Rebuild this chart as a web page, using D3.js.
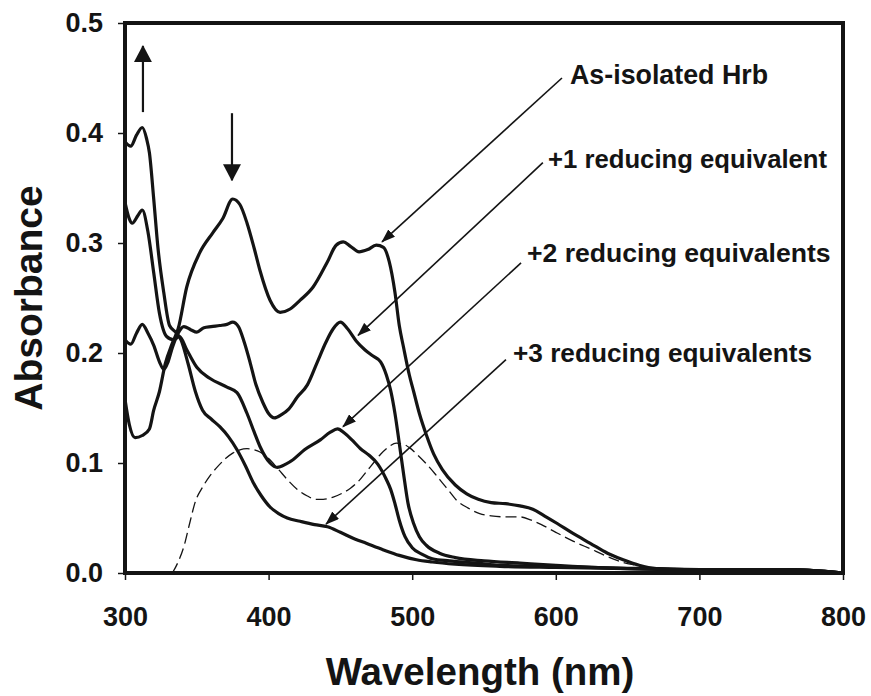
<!DOCTYPE html>
<html>
<head>
<meta charset="utf-8">
<script src="https://cdn.jsdelivr.net/npm/d3@7"></script>
<style>
  html, body { margin: 0; padding: 0; background: #fff; }
  svg { display: block; }
  text { font-family: "Liberation Sans", Arial, sans-serif; font-weight: bold; fill: #141414; }
</style>
</head>
<body>
<svg id="chart" width="871" height="696"></svg>
<script>
// ---------------- data ----------------
const xTicks = [300, 400, 500, 600, 700, 800];
const yTicks = [0.0, 0.1, 0.2, 0.3, 0.4, 0.5];

const wlAsIsolated = [300,303,307,312,317,320,324,328,333,337,343,352,361,368,375,380,385,390,394,401,408,415,422,431,441,447,452,457,463,469,475,480,484,488,491,494,498,501,505,510,515,521,530,538,546,555,565,575,584,592,601,612,624,636,647,658,670,690,720,760,780,800];
const absAsIsolated = [0.158,0.135,0.123,0.125,0.131,0.148,0.165,0.19,0.209,0.222,0.26,0.291,0.309,0.322,0.340,0.335,0.318,0.295,0.275,0.248,0.237,0.240,0.248,0.260,0.283,0.298,0.301,0.297,0.292,0.294,0.298,0.296,0.283,0.255,0.225,0.205,0.180,0.165,0.145,0.125,0.108,0.094,0.080,0.072,0.067,0.064,0.063,0.061,0.058,0.052,0.045,0.036,0.027,0.018,0.012,0.007,0.004,0.003,0.003,0.003,0.002,0.000];

const wlRed1 = [300,304,308,312,316,320,324,327,330,333,337,341,346,350,355,360,366,371,375,379,383,387,391,396,400,404,409,414,420,427,434,440,445,450,455,461,467,473,478,482,485,488,491,494,497,501,505,510,519,530,550,575,600,630,670,720,760,800];
const absRed1 = [0.212,0.208,0.218,0.226,0.218,0.207,0.192,0.185,0.192,0.205,0.218,0.224,0.221,0.219,0.223,0.224,0.225,0.226,0.228,0.224,0.210,0.192,0.172,0.155,0.145,0.141,0.144,0.149,0.160,0.171,0.192,0.210,0.222,0.228,0.222,0.211,0.203,0.197,0.192,0.180,0.166,0.145,0.118,0.090,0.064,0.045,0.033,0.025,0.018,0.014,0.011,0.009,0.007,0.005,0.004,0.003,0.003,0.000];

const wlRed2 = [300,303,305,309,312,316,320,324,329,334,338,343,350,359,371,378,385,390,394,401,406,412,417,425,436,443,448,453,458,464,470,476,482,485,488,491,495,500,507,514,526,545,561,600,650,700,760,800];
const absRed2 = [0.337,0.322,0.318,0.325,0.330,0.310,0.273,0.236,0.215,0.212,0.215,0.203,0.187,0.177,0.169,0.164,0.145,0.128,0.115,0.100,0.096,0.099,0.103,0.112,0.121,0.128,0.131,0.127,0.121,0.113,0.107,0.099,0.085,0.076,0.063,0.048,0.033,0.023,0.017,0.013,0.011,0.009,0.007,0.006,0.004,0.003,0.003,0.000];

const wlRed3 = [300,304,308,312,315,317,320,323,327,331,336,339,344,349,354,360,366,372,378,384,389,395,401,407,413,422,432,441,450,460,468,480,491,503,514,530,561,600,650,700,760,800];
const absRed3 = [0.392,0.388,0.398,0.405,0.395,0.382,0.340,0.295,0.255,0.225,0.218,0.212,0.190,0.165,0.148,0.140,0.133,0.124,0.112,0.097,0.083,0.070,0.060,0.054,0.050,0.047,0.044,0.042,0.037,0.031,0.027,0.021,0.016,0.012,0.010,0.008,0.006,0.005,0.004,0.003,0.003,0.000];

const wlDashed = [333,337,341,345,349,354,359,364,370,375,380,385,390,394,400,407,413,420,427,433,438,445,452,457,463,468,473,478,484,489,494,498,504,510,516,521,526,531,539,547,555,565,575,583,590,600,612,624,636,646,656,668,680,720,760,800];
const absDashed = [0.000,0.010,0.024,0.045,0.065,0.078,0.088,0.096,0.104,0.109,0.112,0.113,0.112,0.110,0.104,0.094,0.085,0.076,0.070,0.067,0.067,0.069,0.073,0.077,0.084,0.092,0.100,0.108,0.115,0.118,0.117,0.114,0.107,0.099,0.090,0.082,0.074,0.066,0.059,0.054,0.052,0.051,0.051,0.048,0.044,0.037,0.029,0.022,0.015,0.010,0.007,0.004,0.003,0.003,0.003,0.000];

// annotation labels (text, anchor wavelength, anchor absorbance) and leader arrows
const labelTexts = ["As-isolated Hrb", "+1 reducing equivalent", "+2 reducing equivalents", "+3 reducing equivalents"];
const labelWl   = [609.9, 594.6, 579.9, 570.2];
const labelAbs  = [0.445, 0.3685, 0.283, 0.192];
const leaderFromWl  = [604.3, 591.0, 575.8, 565.3];
const leaderFromAbs = [0.450, 0.373, 0.282, 0.194];
const leaderToWl    = [479.0, 462.3, 451.8, 440.0];
const leaderToAbs   = [0.301, 0.216, 0.133, 0.0445];

// big trend arrows: [wavelength, fromAbs, toAbs]
const trendWl      = [312.5, 374.5];
const trendFromAbs = [0.419, 0.418];
const trendToAbs   = [0.479, 0.357];

// ---------------- chart ----------------
const svg = d3.select("#chart");
const W = 871, H = 696;
const margin = {left: 125, top: 23, right: W - 843, bottom: H - 573};
const ink = "#141414";

svg.append("rect").attr("width", W).attr("height", H).attr("fill", "#fff");

const x = d3.scaleLinear().domain([300, 800]).range([margin.left, W - margin.right]);
const y = d3.scaleLinear().domain([0, 0.5]).range([H - margin.bottom, margin.top]);

const defs = svg.append("defs");
defs.append("marker")
  .attr("id", "headSmall").attr("viewBox", "0 0 14 10")
  .attr("refX", 13).attr("refY", 5)
  .attr("markerWidth", 14).attr("markerHeight", 10)
  .attr("markerUnits", "userSpaceOnUse").attr("orient", "auto")
  .append("path").attr("d", "M0,0 L14,5 L0,10 Z").attr("fill", ink);
defs.append("marker")
  .attr("id", "headBig").attr("viewBox", "0 0 17 18")
  .attr("refX", 16).attr("refY", 9)
  .attr("markerWidth", 17).attr("markerHeight", 18)
  .attr("markerUnits", "userSpaceOnUse").attr("orient", "auto")
  .append("path").attr("d", "M0,0 L17,9 L0,18 Z").attr("fill", ink);

// axes
const yAxis = d3.axisLeft(y).tickValues(yTicks).tickFormat(d3.format(".1f")).tickSize(7).tickPadding(15);
const xAxis = d3.axisBottom(x).tickValues(xTicks).tickFormat(d3.format("d")).tickSize(7).tickPadding(27);

const gy = svg.append("g").attr("transform", `translate(${margin.left},0)`).call(yAxis);
const gx = svg.append("g").attr("transform", `translate(0,${H - margin.bottom})`).call(xAxis);
[gx, gy].forEach(g => {
  g.select(".domain").remove();
  g.selectAll(".tick line").attr("stroke", ink).attr("stroke-width", 1.5);
  g.selectAll(".tick text").attr("fill", ink).style("font-size", "27px").style("font-weight", "bold")
    .style("font-family", '"Liberation Sans", Arial, sans-serif');
});

// curves
const line = d3.line().x(d => x(d[0])).y(d => y(d[1])).curve(d3.curveMonotoneX);
const zip = (a, b) => a.map((v, i) => [v, b[i]]);
const solidSeries = [
  zip(wlAsIsolated, absAsIsolated),
  zip(wlRed1, absRed1),
  zip(wlRed2, absRed2),
  zip(wlRed3, absRed3)
];
svg.append("path").datum(zip(wlDashed, absDashed))
  .attr("d", line).attr("fill", "none").attr("stroke", ink)
  .attr("stroke-width", 1.3).attr("stroke-dasharray", "11,5");
svg.selectAll(".spec").data(solidSeries).enter().append("path")
  .attr("class", "spec").attr("d", line).attr("fill", "none")
  .attr("stroke", ink).attr("stroke-width", 3.2).attr("stroke-linejoin", "round");

// frame
svg.append("rect")
  .attr("x", x(300)).attr("y", y(0.5))
  .attr("width", x(800) - x(300)).attr("height", y(0) - y(0.5))
  .attr("fill", "none").attr("stroke", ink).attr("stroke-width", 4);

// trend arrows
trendWl.forEach((wl, i) => {
  svg.append("line")
    .attr("x1", x(wl)).attr("y1", y(trendFromAbs[i]))
    .attr("x2", x(wl)).attr("y2", y(trendToAbs[i]))
    .attr("stroke", ink).attr("stroke-width", 2.2)
    .attr("marker-end", "url(#headBig)");
});

// leader arrows and labels
const labelSizes = [26.8, 25.7, 26.6, 26.2];
labelTexts.forEach((t, i) => {
  svg.append("line")
    .attr("x1", x(leaderFromWl[i])).attr("y1", y(leaderFromAbs[i]))
    .attr("x2", x(leaderToWl[i])).attr("y2", y(leaderToAbs[i]))
    .attr("stroke", ink).attr("stroke-width", 1.6)
    .attr("marker-end", "url(#headSmall)");
  svg.append("text")
    .attr("x", x(labelWl[i])).attr("y", y(labelAbs[i]))
    .style("font-size", labelSizes[i] + "px")
    .text(t);
});

// axis titles
svg.append("text")
  .attr("x", (x(300) + x(800)) / 2 - 4).attr("y", 685)
  .attr("text-anchor", "middle").style("font-size", "38.5px")
  .text("Wavelength (nm)");
svg.append("text")
  .attr("transform", "translate(42,298) rotate(-90)")
  .attr("text-anchor", "middle").style("font-size", "39px")
  .text("Absorbance");
</script>
</body>
</html>
